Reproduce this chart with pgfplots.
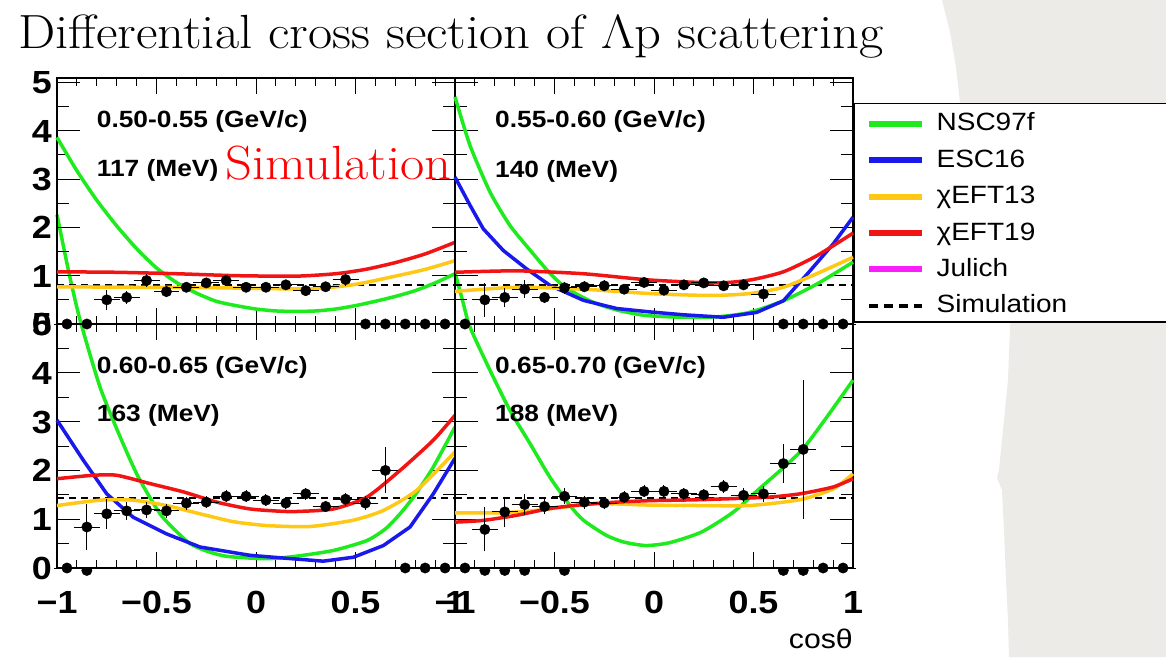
\RequirePackage{fix-cm}
\documentclass[border=0pt]{standalone}
\usepackage{fontspec}
\usepackage{pgfplots}
\usepackage{pgfplotstable}
\pgfplotsset{compat=1.18}
\newfontfamily\rootfont[FakeStretch=1.12]{Liberation Sans}
\definecolor{cgreen}{RGB}{30,235,30}
\definecolor{cblue}{RGB}{25,25,235}
\definecolor{cyellow}{RGB}{255,200,20}
\definecolor{cred}{RGB}{240,20,20}
\definecolor{cmag}{RGB}{250,30,250}
\definecolor{paper}{RGB}{236,235,232}

\pgfplotstableread{
x y ex ey
-0.95 0 0.05 0
-0.85 0 0.05 0
-0.75 0.50 0.05 0.15
-0.65 0.55 0.05 0.07
-0.55 0.90 0.05 0.07
-0.45 0.67 0.05 0.05
-0.35 0.76 0.05 0.04
-0.25 0.85 0.05 0.04
-0.15 0.90 0.05 0.04
-0.05 0.76 0.05 0.04
0.05 0.76 0.05 0.04
0.15 0.81 0.05 0.04
0.25 0.69 0.05 0.04
0.35 0.77 0.05 0.04
0.45 0.92 0.05 0.08
0.55 0 0.05 0
0.65 0 0.05 0
0.75 0 0.05 0
0.85 0 0.05 0
0.95 0 0.05 0
}\tlpts
\pgfplotstableread{
x y ex ey
-0.95 0 0.05 0
-0.85 0.50 0.05 0.29
-0.75 0.55 0.05 0.14
-0.65 0.72 0.05 0.12
-0.55 0.55 0.05 0.06
-0.45 0.75 0.05 0.06
-0.35 0.77 0.05 0.05
-0.25 0.79 0.05 0.05
-0.15 0.72 0.05 0.04
-0.05 0.86 0.05 0.04
0.05 0.70 0.05 0.04
0.15 0.81 0.05 0.04
0.25 0.85 0.05 0.04
0.35 0.79 0.05 0.04
0.45 0.81 0.05 0.05
0.55 0.62 0.05 0.10
0.65 0 0.05 0
0.75 0 0.05 0
0.85 0 0.05 0
0.95 0 0.05 0
}\trpts
\pgfplotstableread{
x y ex ey
-0.95 0 0.05 0
-0.85 0.84 0.05 0.41
-0.75 1.11 0.05 0.24
-0.65 1.17 0.05 0.12
-0.55 1.19 0.05 0.10
-0.45 1.17 0.05 0.08
-0.35 1.33 0.05 0.07
-0.25 1.35 0.05 0.06
-0.15 1.47 0.05 0.06
-0.05 1.47 0.05 0.06
0.05 1.39 0.05 0.06
0.15 1.33 0.05 0.06
0.25 1.52 0.05 0.06
0.35 1.26 0.05 0.06
0.45 1.41 0.05 0.07
0.55 1.33 0.05 0.08
0.65 2.00 0.05 0.41
0.75 0 0.05 0
0.85 0 0.05 0
0.95 0 0.05 0
}\blpts
\pgfplotstableread{
x y ex ey
-0.95 0 0.05 0
-0.85 0.79 0.05 0.39
-0.75 1.15 0.05 0.25
-0.65 1.30 0.05 0.15
-0.55 1.26 0.05 0.10
-0.45 1.47 0.05 0.10
-0.35 1.35 0.05 0.07
-0.25 1.33 0.05 0.06
-0.15 1.45 0.05 0.06
-0.05 1.57 0.05 0.06
0.05 1.57 0.05 0.06
0.15 1.52 0.05 0.06
0.25 1.50 0.05 0.06
0.35 1.67 0.05 0.07
0.45 1.49 0.05 0.08
0.55 1.52 0.05 0.10
0.65 2.14 0.05 0.33
0.75 2.43 0.05 1.36
0.85 0 0.05 0
0.95 0 0.05 0
}\brpts

\pgfplotsset{
  panel/.style={
    anchor=south west, scale only axis, width=398pt,
    xmin=-1, xmax=1, ymin=0, clip=false,
    xtick={-1,-0.5,0,0.5,1}, minor x tick num=4,
    ytick={0,1,2,3,4,5}, minor y tick num=1,
    tick align=inside, tick pos=both,
    major tick length=16pt, minor tick length=8pt,
    axis line style={line width=1.6pt, black},
    tick style={line width=1pt, black},
    ytick style={/pgfplots/major tick length=23pt, /pgfplots/minor tick length=12pt},
    ticklabel style={font=\rootfont\bfseries\fontsize{32}{32}\selectfont, inner sep=0pt, text depth=0pt, text height=23pt},
    xticklabel style={anchor=north, yshift=-22pt},
    yticklabel style={anchor=east, xshift=-5pt},
    xticklabels={}, yticklabels={},
  },
  curve/.style={line width=3.5pt, smooth, tension=0.4},
  sim/.style={black, line width=2pt, dash pattern=on 7pt off 5pt},
  pts/.style={only marks, black, mark=*, mark size=5.2pt, mark options={fill=black},
    error bars/.cd, x dir=both, x explicit, y dir=both, y explicit,
    error bar style={line width=1pt, black},
    error mark options={black, line width=1pt, mark size=3pt}},
}
\newcommand{\lgent}[1]{\makebox[222pt][l]{#1}}

\begin{document}
\begin{tikzpicture}
\path[use as bounding box] (0,0) rectangle (1166pt,657pt);
\fill[white] (0,0) rectangle (1166pt,657pt);
\fill[paper] (940pt,657pt) -- (1166pt,657pt) -- (1166pt,0pt) -- (1009pt,0pt) -- (1008pt,37pt) -- (1006pt,77pt) -- (1004pt,127pt) -- (1002pt,167pt) -- (997pt,179pt) -- (999pt,187pt) -- (1003pt,227pt) -- (1008pt,277pt) -- (1010pt,330pt) -- (1010pt,334pt) -- (960pt,554pt) -- (956pt,590pt) -- (950pt,625pt) -- (942pt,657pt) -- cycle;

% half-hidden dots below the lower panels
\begin{axis}[panel, at={(57pt,89pt)}, height=244pt, ymax=5, hide axis]
\addplot[only marks, mark=*, mark size=5.2pt, black] coordinates {(-0.85,-0.05)};
\end{axis}
\begin{axis}[panel, at={(455pt,89pt)}, height=244pt, ymax=5, hide axis]
\addplot[only marks, mark=*, mark size=5.2pt, black] coordinates {(-0.85,-0.05) (-0.75,-0.05) (-0.65,-0.05) (-0.45,-0.05) (0.65,-0.05) (0.75,-0.05)};
\end{axis}

% bottom-left
\begin{axis}[panel, at={(57pt,89pt)}, height=244pt, ymax=5,
  axis background/.style={fill=white},
  xticklabels={−1,−0.5,0,0.5,1}, yticklabels={0,1,2,3,4,5}]
\addplot[sim] coordinates {(-1,1.43) (1,1.43)};
\addplot[curve, cgreen] coordinates {(-1,7.24) (-0.94,6.05) (-0.884,5.08) (-0.784,3.71) (-0.683,2.69) (-0.591,1.86) (-0.482,1.11) (-0.4,0.75) (-0.332,0.50) (-0.25,0.35) (-0.147,0.24) (0.05,0.19) (0.2,0.24) (0.389,0.36) (0.556,0.56) (0.65,0.80) (0.724,1.11) (0.8,1.5) (0.891,2.07) (1,2.89)};
\addplot[line width=3.5pt, cblue] coordinates {(-1,3.03) (-0.868,2.21) (-0.75,1.52) (-0.617,1.04) (-0.45,0.70) (-0.281,0.43) (-0.03,0.26) (0.15,0.20) (0.338,0.14) (0.489,0.22) (0.64,0.46) (0.774,0.84) (0.891,1.52) (1,2.25)};
\addplot[curve, cyellow] coordinates {(-1,1.28) (-0.784,1.39) (-0.617,1.39) (-0.45,1.28) (-0.281,1.11) (-0.114,0.95) (0.054,0.87) (0.27,0.85) (0.489,0.98) (0.64,1.18) (0.807,1.59) (1,2.38)};
\addplot[curve, cred] coordinates {(-1,1.83) (-0.818,1.90) (-0.7,1.90) (-0.533,1.73) (-0.365,1.56) (-0.197,1.35) (-0.03,1.21) (0.137,1.16) (0.22,1.16) (0.389,1.21) (0.556,1.45) (0.724,2.0) (0.891,2.62) (1,3.13)};
\addplot[pts] table[x=x, y=y, x error=ex, y error=ey] {\blpts};
\end{axis}

% bottom-right
\begin{axis}[panel, at={(455pt,89pt)}, height=244pt, ymax=5,
  axis background/.style={fill=white},
  xticklabels={−1,−0.5,0,0.5,1}]
\addplot[sim] coordinates {(-1,1.43) (1,1.43)};
\addplot[curve, cgreen] coordinates {(-1,6.05) (-0.96,5.45) (-0.925,4.94) (-0.824,4.05) (-0.724,3.23) (-0.623,2.55) (-0.523,1.86) (-0.422,1.28) (-0.355,0.98) (-0.24,0.67) (-0.15,0.53) (-0.04,0.46) (0.08,0.52) (0.24,0.74) (0.4,1.15) (0.52,1.59) (0.75,2.45) (1,3.85)};
\addplot[curve, cyellow] coordinates {(-1,1.13) (-0.784,1.13) (-0.618,1.17) (-0.45,1.25) (-0.28,1.32) (-0.03,1.29) (0.25,1.28) (0.48,1.28) (0.734,1.40) (0.9,1.62) (1,1.93)};
\addplot[curve, cred] coordinates {(-1,0.94) (-0.86,0.975) (-0.69,1.08) (-0.523,1.22) (-0.355,1.30) (-0.187,1.35) (-0.02,1.38) (0.231,1.40) (0.566,1.45) (0.734,1.52) (0.9,1.66) (1,1.83)};
\addplot[pts] table[x=x, y=y, x error=ex, y error=ey] {\brpts};
\end{axis}

% top-left
\begin{axis}[panel, at={(57pt,333pt)}, height=246pt, ymax=5.09,
  yticklabels={0,1,2,3,4,5}]
\addplot[sim] coordinates {(-1,0.80) (1,0.80)};
\addplot[curve, cgreen] coordinates {(-1,3.86) (-0.9,3.17) (-0.8,2.56) (-0.7,2.03) (-0.6,1.56) (-0.5,1.16) (-0.4,0.86) (-0.3,0.64) (-0.2,0.47) (-0.1,0.38) (0,0.31) (0.1,0.27) (0.2,0.26) (0.3,0.27) (0.4,0.31) (0.5,0.38) (0.6,0.47) (0.7,0.57) (0.8,0.69) (0.9,0.85) (1,1.04)};
\addplot[curve, cyellow] coordinates {(-1,0.77) (-0.6,0.76) (-0.2,0.75) (0.1,0.73) (0.3,0.73) (0.5,0.82) (0.7,0.99) (0.85,1.13) (1,1.31)};
\addplot[curve, cred] coordinates {(-1,1.08) (-0.7,1.07) (-0.4,1.04) (-0.1,1.0) (0.2,0.99) (0.4,1.04) (0.55,1.13) (0.7,1.27) (0.85,1.45) (1,1.69)};
\addplot[pts] table[x=x, y=y, x error=ex, y error=ey] {\tlpts};
\end{axis}

% top-right with legend
\begin{axis}[panel, at={(455pt,333pt)}, height=246pt, ymax=5.09,
  legend style={at={(1.0025,0.898)}, anchor=north west, draw=black, line width=1.2pt, fill=white,
    inner xsep=11pt, inner ysep=0pt, row sep=0pt, column sep=12pt,
    font=\rootfont\fontsize{25}{25}\selectfont,
    nodes={inner sep=0pt, text height=27.2pt, text depth=9.2pt}},
  legend cell align=left,
  legend image code/.code={\draw[#1] (0pt,-2pt) -- (53pt,-2pt);}]
\addlegendimage{cgreen, line width=6pt}
\addlegendimage{cblue, line width=6pt}
\addlegendimage{cyellow, line width=6pt}
\addlegendimage{cred, line width=6pt}
\addlegendimage{cmag, line width=6pt}
\addlegendimage{black, line width=4pt, dash pattern=on 9pt off 6pt}
\addplot[sim] coordinates {(-1,0.80) (1,0.80)};
\addplot[curve, cgreen] coordinates {(-1,4.70) (-0.925,3.70) (-0.824,2.73) (-0.724,2.04) (-0.623,1.53) (-0.53,1.08) (-0.456,0.79) (-0.38,0.60) (-0.3,0.44) (-0.187,0.29) (-0.05,0.18) (0.1,0.145) (0.25,0.14) (0.35,0.16) (0.48,0.24) (0.65,0.48) (0.82,0.83) (1.0,1.28)};
\addplot[line width=3.5pt, cblue] coordinates {(-1,3.04) (-0.925,2.46) (-0.858,1.97) (-0.757,1.52) (-0.64,1.14) (-0.523,0.80) (-0.355,0.49) (-0.187,0.32) (-0.02,0.25) (0.15,0.19) (0.348,0.14) (0.516,0.24) (0.65,0.48) (0.784,1.10) (0.901,1.66) (1.0,2.21)};
\addplot[curve, cyellow] coordinates {(-1,0.675) (-0.69,0.76) (-0.355,0.72) (-0.02,0.63) (0.281,0.59) (0.482,0.63) (0.65,0.76) (0.817,1.04) (1,1.38)};
\addplot[curve, cred] coordinates {(-1,1.07) (-0.69,1.10) (-0.355,1.04) (-0.02,0.91) (0.315,0.85) (0.482,0.91) (0.65,1.08) (0.817,1.41) (1,1.88)};
\addplot[pts] table[x=x, y=y, x error=ex, y error=ey] {\trpts};
\legend{\lgent{NSC97f},\lgent{ESC16},\lgent{χEFT13},\lgent{χEFT19},\lgent{Julich},\lgent{Simulation}}
\end{axis}

% texts
\node[anchor=base west, inner sep=0pt, font=\fontsize{48}{48}\selectfont] at (18pt,608pt) {\scalebox{1.097}[1]{Differential cross section of \(\Lambda\)p scattering}};
\node[anchor=base west, inner sep=0pt, text=red, font=\fontsize{48}{48}\selectfont] at (225pt,477pt) {\scalebox{1.097}[1]{Simulation}};
\begin{scope}[every node/.style={anchor=base west, inner sep=0pt, font=\rootfont\bfseries\fontsize{23.5}{23.5}\selectfont}]
\node at (96.7pt,529pt) {0.50-0.55 (GeV/c)};
\node at (96.7pt,480pt) {117 (MeV)};
\node at (495pt,529pt) {0.55-0.60 (GeV/c)};
\node at (495pt,479pt) {140 (MeV)};
\node at (96.7pt,284pt) {0.60-0.65 (GeV/c)};
\node at (96.7pt,235.5pt) {163 (MeV)};
\node at (495pt,284pt) {0.65-0.70 (GeV/c)};
\node at (495pt,235.5pt) {188 (MeV)};
\end{scope}
\node[anchor=base east, inner sep=0pt, font=\rootfont\fontsize{27}{27}\selectfont] at (853pt,9pt) {cosθ};
\end{tikzpicture}
\end{document}
